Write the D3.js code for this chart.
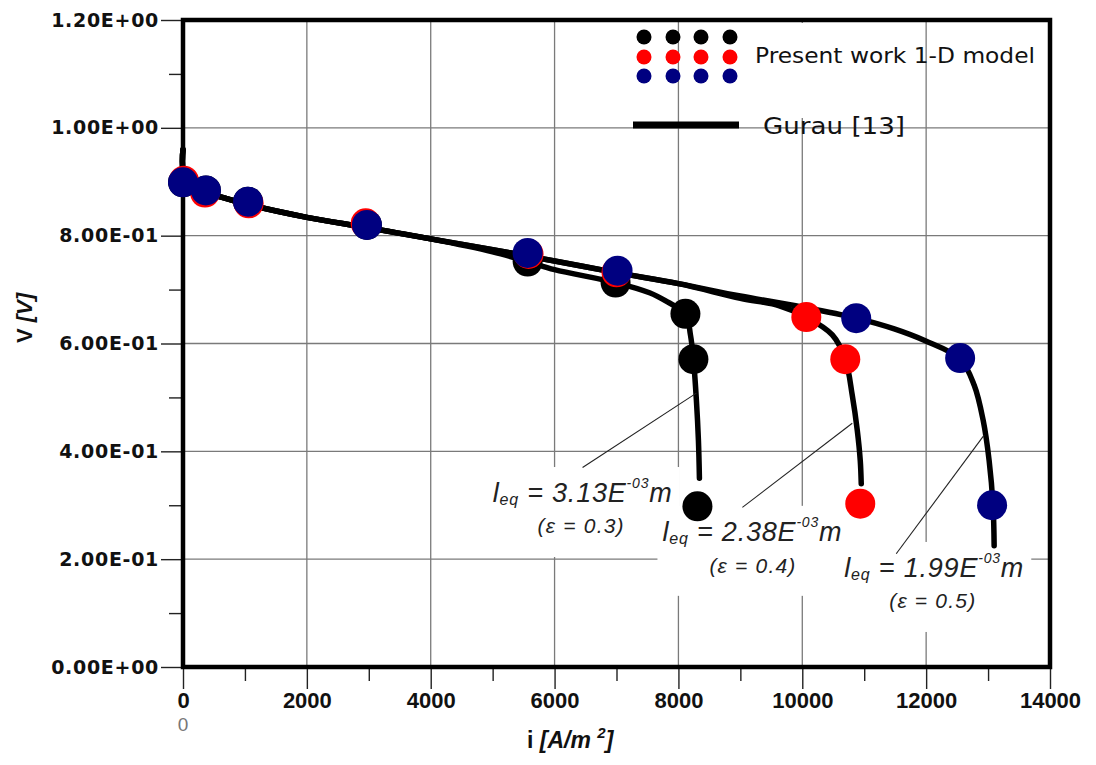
<!DOCTYPE html>
<html>
<head>
<meta charset="utf-8">
<script src="https://cdn.jsdelivr.net/npm/d3@7"></script>
<style>
  html, body { margin: 0; padding: 0; background: #fff; }
  svg { display: block; }
</style>
</head>
<body>
<svg id="chart" width="1096" height="765"></svg>
<script>
// ---- axis ticks ----
const xTicks = [0, 2000, 4000, 6000, 8000, 10000, 12000, 14000];
const xMinorTicks = [1000, 3000, 5000, 7000, 9000, 11000, 13000];
const yTicks = [0, 0.2, 0.4, 0.6, 0.8, 1.0, 1.2];
const yTickLabels = ["0.00E+00", "2.00E-01", "4.00E-01", "6.00E-01", "8.00E-01", "1.00E+00", "1.20E+00"];
const yMinorTicks = [0.1, 0.3, 0.5, 0.7, 0.9, 1.1];

// ---- present work 1-D model (current density i [A/m2], cell voltage V [V]) ----
const modelI_eps03 = [0, 370, 1050, 2970, 5565, 6985, 8113, 8242, 8307];
const modelV_eps03 = [0.899, 0.884, 0.863, 0.820, 0.752, 0.713, 0.655, 0.571, 0.298];
const modelI_eps04 = [15, 355, 1060, 2950, 5580, 7000, 10065, 10694, 10936];
const modelV_eps04 = [0.902, 0.880, 0.860, 0.823, 0.766, 0.732, 0.649, 0.571, 0.303];
const modelI_eps05 = [0, 370, 1050, 2970, 5565, 7017, 10871, 12549, 13065];
const modelV_eps05 = [0.899, 0.884, 0.863, 0.820, 0.768, 0.735, 0.647, 0.573, 0.300];

// ---- Gurau [13] polarization curves ----
const gurauI_eps03 = [0, 30, 370, 1050, 2000, 2970, 4000, 5000, 5565, 6000, 6985, 7533, 7823, 8113, 8194, 8242, 8290, 8323, 8339];
const gurauV_eps03 = [0.960, 0.908, 0.882, 0.858, 0.834, 0.815, 0.794, 0.770, 0.752, 0.737, 0.713, 0.694, 0.677, 0.655, 0.616, 0.571, 0.495, 0.420, 0.350];
const gurauI_eps04 = [0, 30, 370, 1050, 2000, 2970, 4000, 5000, 6000, 7017, 8000, 9000, 9630, 10065, 10485, 10694, 10807, 10888, 10936, 10952];
const gurauV_eps04 = [0.960, 0.908, 0.882, 0.858, 0.834, 0.815, 0.794, 0.774, 0.753, 0.731, 0.711, 0.684, 0.670, 0.649, 0.616, 0.571, 0.504, 0.439, 0.383, 0.340];
const gurauI_eps05 = [0, 30, 370, 1050, 2000, 2970, 4000, 5000, 6000, 7017, 8000, 9000, 9985, 10871, 11485, 11985, 12549, 12775, 12920, 13017, 13081, 13098];
const gurauV_eps05 = [0.960, 0.908, 0.882, 0.858, 0.834, 0.815, 0.794, 0.774, 0.753, 0.731, 0.711, 0.688, 0.668, 0.647, 0.627, 0.605, 0.571, 0.523, 0.458, 0.383, 0.298, 0.225];

// ---- annotations: equivalent length and porosity ----
const leqValues = ["3.13E", "2.38E", "1.99E"];
const epsValues = ["0.3", "0.4", "0.5"];
const leaderFromI = [8290, 10807, 12936];
const leaderFromV = [0.508, 0.452, 0.430];
const leaderToI = [6452, 9033, 11517];
const leaderToV = [0.370, 0.296, 0.210];
const labelI = [5000, 7742, 10678];
const labelV = [0.306, 0.234, 0.167];
const epsLabelI = [5726, 8500, 11404];
const epsLabelV = [0.2485, 0.174, 0.109];

const seriesColors = ["#000000", "#ff0000", "#000080"];

// ---- layout ----
const svg = d3.select("#chart");
const plot = { left: 183, right: 1050, top: 20, bottom: 667 };

const x = d3.scaleLinear().domain([0, 14000]).range([plot.left, plot.right]);
const y = d3.scaleLinear().domain([0, 1.2]).range([plot.bottom, plot.top]);

svg.append("rect").attr("width", 1096).attr("height", 765).attr("fill", "#fff");

// grid
const grid = svg.append("g").attr("stroke", "#7a7a7a").attr("stroke-width", 1.3);
grid.selectAll("line.v").data(xTicks.slice(1, -1)).join("line")
  .attr("x1", d => x(d)).attr("x2", d => x(d))
  .attr("y1", y(1.2)).attr("y2", y(0));
grid.selectAll("line.h").data(yTicks.slice(1, -1)).join("line")
  .attr("x1", x(0)).attr("x2", x(14000))
  .attr("y1", d => y(d)).attr("y2", d => y(d));

// white backgrounds behind the annotation blocks and legend text
const masks = svg.append("g").attr("fill", "#fff");
labelI.forEach((li, k) => {
  const lx = x(li), ly = y(labelV[k]);
  masks.append("rect").attr("x", lx - 5).attr("y", ly - 35).attr("width", 192).attr("height", 90);
});
masks.append("rect").attr("x", 745).attr("y", 23).attr("width", 160).attr("height", 95);

// y axis ticks
const yAxis = d3.axisLeft(y).tickValues(yTicks)
  .tickFormat((d, i) => yTickLabels[i]).tickSize(22).tickPadding(2);
const gy = svg.append("g").attr("transform", `translate(${plot.left},0)`).call(yAxis);
gy.select(".domain").remove();
gy.selectAll(".tick line").attr("stroke", "#222").attr("stroke-width", 1.4);
gy.selectAll(".tick text")
  .attr("font-family", "DejaVu Sans, sans-serif").attr("font-weight", "bold")
  .attr("font-size", 19).attr("letter-spacing", 0.7).attr("fill", "#111");

const yMinor = d3.axisLeft(y).tickValues(yMinorTicks).tickFormat("").tickSize(14);
const gyMinor = svg.append("g").attr("transform", `translate(${plot.left},0)`).call(yMinor);
gyMinor.select(".domain").remove();
gyMinor.selectAll(".tick line").attr("stroke", "#222").attr("stroke-width", 1.4);

// x axis ticks
const xAxis = d3.axisBottom(x).tickValues(xTicks).tickFormat(d3.format("d")).tickSize(22).tickPadding(3);
const gx = svg.append("g").attr("transform", `translate(0,${plot.bottom})`).call(xAxis);
gx.select(".domain").remove();
gx.selectAll(".tick line").attr("stroke", "#222").attr("stroke-width", 1.4);
gx.selectAll(".tick text")
  .attr("font-family", "Liberation Sans, Arial, sans-serif").attr("font-weight", "bold")
  .attr("font-size", 22).attr("fill", "#111");

const xMinor = d3.axisBottom(x).tickValues(xMinorTicks).tickFormat("").tickSize(14);
const gxMinor = svg.append("g").attr("transform", `translate(0,${plot.bottom})`).call(xMinor);
gxMinor.select(".domain").remove();
gxMinor.selectAll(".tick line").attr("stroke", "#222").attr("stroke-width", 1.4);

// faint secondary origin label
svg.append("text").attr("x", x(0)).attr("y", 731).attr("text-anchor", "middle")
  .attr("font-family", "Liberation Sans, Arial, sans-serif").attr("font-size", 19)
  .attr("fill", "#777").text("0");

// frame
svg.append("rect")
  .attr("x", x(0)).attr("y", y(1.2))
  .attr("width", x(14000) - x(0)).attr("height", y(0) - y(1.2))
  .attr("fill", "none").attr("stroke", "#000").attr("stroke-width", 4.5);

// axis titles
const yTitle = svg.append("text")
  .attr("transform", `translate(32,318) rotate(-90)`)
  .attr("text-anchor", "middle")
  .attr("font-family", "Liberation Sans, Arial, sans-serif")
  .attr("font-weight", "bold").attr("font-size", 22).attr("fill", "#111");
yTitle.append("tspan").text("V ");
yTitle.append("tspan").attr("font-style", "italic").text("[V]");

const xTitle = svg.append("text")
  .attr("x", 527).attr("y", 748)
  .attr("font-family", "Liberation Sans, Arial, sans-serif")
  .attr("font-weight", "bold").attr("font-size", 23).attr("fill", "#111");
xTitle.append("tspan").text("i ");
xTitle.append("tspan").attr("font-style", "italic").text("[A/m ");
xTitle.append("tspan").attr("font-style", "italic").attr("font-size", 15).attr("dy", -10).text("2");
xTitle.append("tspan").attr("font-style", "italic").attr("dy", 10).text("]");

// Gurau curves
const line = d3.line().x(d => x(d[0])).y(d => y(d[1])).curve(d3.curveCatmullRom.alpha(0.5));
const gurauCurves = [
  d3.zip(gurauI_eps03, gurauV_eps03),
  d3.zip(gurauI_eps04, gurauV_eps04),
  d3.zip(gurauI_eps05, gurauV_eps05)
];
svg.append("g").selectAll("path").data(gurauCurves).join("path")
  .attr("d", line).attr("fill", "none").attr("stroke", "#000")
  .attr("stroke-width", 5.5).attr("stroke-linecap", "round").attr("stroke-linejoin", "round");

// leader lines
const leaders = svg.append("g").attr("stroke", "#222").attr("stroke-width", 1.1);
leaderFromI.forEach((fi, k) => {
  leaders.append("line")
    .attr("x1", x(fi)).attr("y1", y(leaderFromV[k]))
    .attr("x2", x(leaderToI[k])).attr("y2", y(leaderToV[k]));
});

// annotation texts
labelI.forEach((li, k) => {
  const t = svg.append("text")
    .attr("x", x(li)).attr("y", y(labelV[k]))
    .attr("font-family", "Liberation Sans, Arial, sans-serif")
    .attr("font-style", "italic").attr("font-size", 27).attr("letter-spacing", 0.8)
    .attr("fill", "#222");
  t.append("tspan").text("l");
  t.append("tspan").attr("font-size", 16).attr("dy", 3).text("eq");
  t.append("tspan").attr("dy", -3).text(" = " + leqValues[k]);
  t.append("tspan").attr("font-size", 14).attr("dy", -14).text("-03");
  t.append("tspan").attr("dy", 14).text("m");

  svg.append("text")
    .attr("x", x(epsLabelI[k])).attr("y", y(epsLabelV[k]))
    .attr("font-family", "Liberation Sans, Arial, sans-serif")
    .attr("font-style", "italic").attr("font-size", 21).attr("letter-spacing", 1.2)
    .attr("fill", "#222")
    .text("(\u03b5 = " + epsValues[k] + ")");
});

// model points: black, then red, then navy on top
const modelSets = [
  d3.zip(modelI_eps03, modelV_eps03),
  d3.zip(modelI_eps04, modelV_eps04),
  d3.zip(modelI_eps05, modelV_eps05)
];
modelSets.forEach((pts, k) => {
  svg.append("g").selectAll("circle").data(pts).join("circle")
    .attr("cx", d => x(d[0])).attr("cy", d => y(d[1])).attr("r", 15)
    .attr("fill", seriesColors[k]);
});

// legend
const legend = svg.append("g");
const legendCols = [644, 673, 701, 730];
const legendRows = [37, 57, 76];
seriesColors.forEach((c, r) => {
  legend.selectAll(null).data(legendCols).join("circle")
    .attr("cx", d => d).attr("cy", legendRows[r]).attr("r", 7.5).attr("fill", c);
});
legend.append("text").attr("x", 755).attr("y", 63)
  .attr("font-family", "DejaVu Sans, sans-serif").attr("font-size", 21)
  .attr("textLength", 280).attr("lengthAdjust", "spacingAndGlyphs")
  .attr("fill", "#111").text("Present work 1-D model");
legend.append("line").attr("x1", 633).attr("x2", 739).attr("y1", 125).attr("y2", 125)
  .attr("stroke", "#000").attr("stroke-width", 7);
legend.append("text").attr("x", 763).attr("y", 134)
  .attr("font-family", "DejaVu Sans, sans-serif").attr("font-size", 23)
  .attr("textLength", 142).attr("lengthAdjust", "spacingAndGlyphs")
  .attr("fill", "#111").text("Gurau [13]");
</script>
</body>
</html>
